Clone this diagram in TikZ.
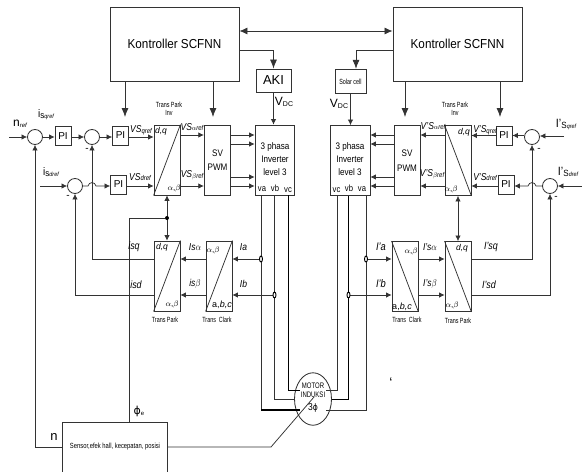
\documentclass[tikz,border=0pt]{standalone}
\usepackage{fontspec}
\setmainfont{Liberation Sans}
\usetikzlibrary{arrows.meta,shapes.geometric}
\newcommand{\nrw}[2][0.8]{\scalebox{#1}[1]{#2}}
\newcommand{\fsz}[1]{\fontsize{#1}{#1}\selectfont}
\newcommand{\symb}[1]{{\fontspec{DejaVu Sans}#1}}
\newcommand{\sig}[2]{\scalebox{0.85}[1]{\itshape\fsz{10}#1\raisebox{-0.5pt}{\fsz{7}#2}}}
\tikzset{
  x=1pt,y=-1pt,
  wire/.style={line width=0.75pt,black!80},
  arr/.style={wire,-{Latex[length=5.5pt,width=5.5pt]}},
  bigarr/.style={wire,-{Latex[length=9pt,width=7pt]}},
  botharr/.style={wire,{Latex[length=5.5pt,width=5.5pt]}-{Latex[length=5.5pt,width=5.5pt]}},
  bigboth/.style={wire,{Latex[length=8pt,width=7pt]}-{Latex[length=8pt,width=7pt]}},
  blk/.style={draw=black!80,line width=0.85pt,inner sep=0pt,align=center,fill=none},
  sumc/.style={draw=black!80,line width=0.85pt,circle,minimum size=15pt,inner sep=0pt},
  pibox/.style={blk,minimum width=16pt,minimum height=19pt,font=\fsz{10}},
  conv/.style={blk,minimum width=26pt,minimum height=70pt},
  txt/.style={inner sep=0pt,align=center},
  tinyt/.style={txt,font=\fsz{7.5}},
  dotc/.style={draw=black,fill=white,line width=0.9pt,ellipse,minimum width=3pt,minimum height=6pt,inner sep=0pt},
  dotf/.style={fill=black,circle,minimum size=4pt,inner sep=0pt},
}
\begin{document}
\begin{tikzpicture}
\useasboundingbox (0,0) rectangle (582,472);
% rows
\coordinate (r1) at (0,137);
\coordinate (r1b) at (0,135);
\coordinate (r1c) at (0,144);
\coordinate (r2) at (0,186);
\coordinate (r2c) at (0,177);
\coordinate (r3) at (0,259);
\coordinate (r4) at (0,295);
\coordinate (rlink) at (0,31);
\coordinate (rctl) at (0,50);
% controllers
\node[blk,minimum width=129pt,minimum height=74pt] (ctlL) at (174.5,44) {\nrw[0.9]{\fsz{13}Kontroller SCFNN}};
\node[blk,minimum width=129pt,minimum height=74pt] (ctlR) at (457.5,44) {\nrw[0.9]{\fsz{13}Kontroller SCFNN}};
\node[blk,minimum width=35pt,minimum height=23pt,font=\fsz{13}] (aki) at (273.5,80.5) {AKI};
\node[blk,minimum width=31pt,minimum height=24.5pt,font=\fsz{7.5}] (solar) at (350.5,81.5) {\nrw[0.72]{Solar cell}};
% inverters
\node[blk,minimum width=39pt,minimum height=70pt] (invL) at (274.5,160) {};
\node[blk,minimum width=40pt,minimum height=70pt] (invR) at (350,160.5) {};
\node[txt,font=\fsz{9.5}] (invLt) at (275,159) {\nrw[0.85]{3 phasa}\\[3.5pt]\nrw[0.85]{Inverter}\\[3.5pt]\nrw[0.85]{level 3}};
\node[txt,font=\fsz{9.5}] (invRt) at (350,159) {\nrw[0.85]{3 phasa}\\[3.5pt]\nrw[0.85]{Inverter}\\[3.5pt]\nrw[0.85]{level 3}};
\node[txt,font=\fsz{9}] (va) at (262,189) {\nrw[0.85]{va}};
\node[txt,font=\fsz{9}] (vb) at (275,188) {\nrw[0.85]{vb}};
\node[txt,font=\fsz{9}] (vc) at (288,190) {\nrw[0.85]{vc}};
\node[txt,font=\fsz{9}] (vc2) at (336.5,190.5) {\nrw[0.85]{vc}};
\node[txt,font=\fsz{9}] (vb2) at (349,188) {\nrw[0.85]{vb}};
\node[txt,font=\fsz{9}] (va2) at (362,189) {\nrw[0.85]{va}};
% SV PWM
\node[blk,minimum width=26.5pt,minimum height=70pt,font=\fsz{9.5}] (svL) at (217.5,160) {\nrw[0.85]{SV}\\[5pt]\nrw[0.85]{PWM}};
\node[blk,minimum width=26pt,minimum height=70pt,font=\fsz{9.5}] (svR) at (407,160.5) {\nrw[0.85]{SV}\\[5pt]\nrw[0.85]{PWM}};
% park/clark
\node[conv] (piL) at (167,160) {};
\node[conv] (piR) at (458,160.5) {};
\node[conv] (pL) at (167,276) {};
\node[conv] (cL) at (219,276) {};
\node[conv] (cR) at (405,276.5) {};
\node[conv] (pR) at (458,276.5) {};
\foreach \n in {piL,pL,cL}{\draw[wire] (\n.south west) -- (\n.north east);}
\foreach \n in {piR,pR,cR}{\draw[wire] (\n.north west) -- (\n.south east);}
% sums and PI
\node[sumc] (s1) at (35,137) {};
\node[pibox] (pi1) at (63,136) {PI};
\node[sumc] (s2) at (92,137) {};
\node[pibox] (pi2) at (120.5,135.5) {PI};
\node[sumc] (s3) at (75,186) {};
\node[pibox] (pi3) at (118.5,184.5) {PI};
\node[sumc] (s4) at (532,137) {};
\node[pibox] (pi4) at (504,135.5) {PI};
\node[sumc] (s5) at (550,186) {};
\node[pibox] (pi5) at (506,184.5) {PI};
% sensor and motor
\node[blk,minimum width=105pt,minimum height=50pt,font=\fsz{7.5}] (sensor) at (115,447) {\nrw[0.78]{Sensor,efek hall, kecepatan, posisi}};
\node[blk,ellipse,minimum width=37pt,minimum height=52.5pt] (motor) at (313,399) {};
\node[txt,font=\fsz{8},anchor=north] (motort) at (313,383) {\nrw[0.75]{MOTOR}\\[1pt]\nrw[0.75]{INDUKSI}};
\node[txt,font=\fsz{10}] (motorp) at (313,408) {\nrw[0.85]{3\symb{\fsz{9}ϕ}}};
% controller links
\draw[bigboth] (ctlL.east |- rlink) -- (ctlR.west |- rlink);
\draw[bigarr] (ctlL.east |- rctl) -| (aki.north);
\draw[bigarr] (ctlR.west |- rctl) -| (solar.north -| 356,0);
\coordinate (a1) at (125,117);
\coordinate (a2) at (213,117);
\coordinate (a3) at (405,117);
\coordinate (a4) at (500,117);
\draw[bigarr] (ctlL.south -| a1) -- (a1);
\draw[bigarr] (ctlL.south -| a2) -- (a2);
\draw[bigarr] (ctlR.south -| a3) -- (a3);
\draw[bigarr] (ctlR.south -| a4) -- (a4);
\draw[arr] (aki.south) -- (invL.north -| aki);
\draw[arr] (solar.south) -- (invR.north -| solar);
% left rows
\coordinate (in1) at (9,137);
\coordinate (in2) at (40,186);
\draw[arr] (in1) -- (s1.west);
\draw[arr] (s1.east) -- (pi1.west |- s1);
\draw[arr] (pi1.east |- s2) -- (s2.west);
\draw[arr] (s2.east) -- (pi2.west |- s2);
\draw[arr] (pi2.east |- s2) -- (piL.west |- s2);
\draw[arr] (in2) -- (s3.west);
\draw[arr] (s3.east) -- (88,186) .. controls (89,181.5) and (95,181.5) .. (96,186) -- (pi3.west |- s3);
\draw[arr] (pi3.east |- s3) -- (piL.west |- s3);
\draw[arr] (piL.east |- r1b) -- (svL.west |- r1b);
\draw[arr] (piL.east |- r2) -- (svL.west |- r2);
\foreach \r in {r1b,r1c,r2c,r2}{\draw[arr] (svL.east |- \r) -- (invL.west |- \r);}
% right rows
\coordinate (in4) at (564,136);
\coordinate (in5) at (582,186);
\draw[arr] (in4) -- (s4.east |- in4);
\draw[arr] (s4.west |- pi4) -- (pi4.east);
\draw[arr] (pi4.west) -- (piR.east |- pi4);
\draw[arr] (in5) -- (s5.east);
\draw[arr] (s5.west) -- (536,186) .. controls (535,181.5) and (529,181.5) .. (528,186) -- (pi5.east |- s5);
\draw[arr] (pi5.west |- s5) -- (piR.east |- s5);
\draw[arr] (piR.west |- r1b) -- (svR.east |- r1b);
\draw[arr] (piR.west |- r2) -- (svR.east |- r2);
\foreach \r in {r1b,r1c,r2c,r2}{\draw[arr] (svR.west |- \r) -- (invR.east |- \r);}
% vertical double arrows
\draw[botharr] (piL.south) -- (pL.north);
\draw[botharr] (piR.south) -- (pR.north);
\node[dotf] (jf) at (167,218) {};
\draw[wire] (jf) -| (sensor.north -| 129.5,0);
% feedback paths
\draw[arr] (sensor.west) -| (s1.south);
\draw[arr] (pL.west |- r3) -| (s2.south);
\draw[arr] (pL.west |- r4) -| (s3.south);
\draw[arr] (cL.west |- r3) -- (pL.east |- r3);
\draw[arr] (cL.west |- r4) -- (pL.east |- r4);
\draw[arr] (pR.east |- r3) -| (s4.south);
\draw[arr] (pR.east |- r4) -| (s5.south);
\draw[arr] (cR.east |- r3) -- (pR.west |- r3);
\draw[arr] (cR.east |- r4) -- (pR.west |- r4);
% phases
\coordinate (xa) at (261,0);
\coordinate (xb) at (274.5,0);
\coordinate (xc) at (288,0);
\coordinate (xc2) at (337,0);
\coordinate (xb2) at (348.5,0);
\coordinate (xa2) at (366,0);
\coordinate (m1) at (0,390);
\coordinate (m2) at (0,399);
\coordinate (m3) at (0,410);
\draw[wire] (invL.south -| xa) -- (xa |- m3);
\draw[wire,line width=1.2pt,black] (xa |- m3) -- (motor.south west |- m3);
\draw[wire] (invL.south -| xb) -- (xb |- m2) -- (motor.west);
\draw[wire,black] (invL.south -| xc) -- (xc |- m1) -- (motor.north west |- m1);
\draw[wire] (invR.south -| xc2) -- (xc2 |- m1) -- (motor.north east |- m1);
\draw[wire,black] (invR.south -| xb2) -- (xb2 |- m2) -- (motor.east);
\draw[wire] (invR.south -| xa2) -- (xa2 |- m3) -- (motor.south east |- m3);
\draw[arr] (xa |- r3) -- (cL.east |- r3);
\draw[arr] (xb |- r4) -- (cL.east |- r4);
\draw[arr] (xa2 |- r3) -- (cR.west |- r3);
\draw[arr] (xb2 |- r4) -- (cR.west |- r4);
\node[dotc] (d1) at (xa |- r3) {};
\node[dotc] (d2) at (xb |- r4) {};
\node[dotc] (d3) at (xa2 |- r3) {};
\node[dotc] (d4) at (xb2 |- r4) {};
% sensor to motor
\coordinate (kn) at (271,447);
\coordinate (mc) at (314,397);
\draw[wire] (sensor.east) -- (kn) -- (mc);
% labels left
\node[txt,font=\fsz{12}] (t1) at (20,124) {n\raisebox{-1pt}{\itshape\fsz{6}ref}};
\node[txt] (t2) at (46,115) {\nrw[0.9]{\fsz{11}i\raisebox{-1pt}{\fsz{9}s}\raisebox{-1pt}{\itshape\fsz{6}qref}}};
\node[txt] (t3) at (51,172) {\nrw[0.9]{\fsz{11}i\raisebox{-1pt}{\fsz{9}s}\raisebox{-1pt}{\itshape\fsz{6}dref}}};
\node[tinyt] (t4) at (169,109) {\nrw[0.72]{Trans Park}\\[1pt]\nrw[0.72]{Inv}};
\node[txt] (t5) at (141,130) {\sig{VS}{qref}};
\node[txt] (t6) at (140,177) {\sig{VS}{dref}};
\node[txt] (t7) at (192,127) {\sig{VS}{$\alpha$ref}};
\node[txt] (t8) at (192,175) {\sig{VS}{$\beta$ref}};
\node[txt,font=\fsz{8.5}\itshape] (t9) at (161,131) {d,q};
\node[txt,font=\fsz{8}] (t10) at (174,188) {$\alpha$,$\beta$};
\node[txt] (t11) at (284,102) {\fsz{12}V\raisebox{-1pt}{\fsz{7}DC}};
\node[txt] (t12) at (339,104) {\fsz{12}V\raisebox{-1pt}{\fsz{7}DC}};
\node[txt,font=\fsz{10}] (t13) at (87,150) {-};
\node[txt,font=\fsz{10}] (t14) at (68,197) {-};
\node[txt,font=\fsz{10.5}\itshape] (t15) at (134,247) {\nrw[0.85]{isq}};
\node[txt,font=\fsz{10.5}\itshape] (t16) at (136,285) {\nrw[0.85]{isd}};
\node[txt,font=\fsz{8.5}\itshape] (t17) at (162,247) {d,q};
\node[txt,font=\fsz{8}] (t18) at (172,304) {$\alpha$,$\beta$};
\node[tinyt] (t19) at (165,320) {\nrw[0.72]{Trans Park}};
\node[txt,font=\fsz{10}\itshape] (t20) at (195,247) {\nrw[0.85]{Is$\alpha$}};
\node[txt,font=\fsz{10}\itshape] (t21) at (195,284) {\nrw[0.85]{is$\beta$}};
\node[txt,font=\fsz{8}] (t22) at (213,250) {$\alpha$,$\beta$};
\node[txt,font=\fsz{9}] (t23) at (222,305) {a,\textit{b,c}};
\node[tinyt] (t24) at (217,320) {\nrw[0.72]{Trans\ \ Clark}};
\node[txt,font=\fsz{10}\itshape] (t25) at (243.5,247) {\nrw[0.85]{Ia}};
\node[txt,font=\fsz{10}\itshape] (t26) at (243.5,284) {\nrw[0.85]{Ib}};
\node[txt] (t27) at (139,411) {\symb{\fsz{11}ϕ}\raisebox{-1pt}{\fsz{6}e}};
\node[txt,font=\fsz{13}] (t28) at (54,437) {n};
% labels right
\node[tinyt] (r4t) at (455,109) {\nrw[0.72]{Trans Park}\\[1pt]\nrw[0.72]{Inv}};
\node[txt] (rt5) at (433,126) {\sig{V'S}{$\alpha$ref}};
\node[txt] (rt6) at (432,174) {\sig{V'S}{$\beta$ref}};
\node[txt] (rt7) at (485,130) {\sig{V'S}{qref}};
\node[txt] (rt8) at (485,177) {\sig{V'S}{dref}};
\node[txt,font=\fsz{8.5}\itshape] (rt9) at (464,132) {d,q};
\node[txt,font=\fsz{8}] (rt10) at (451,189) {$\alpha$,$\beta$};
\node[txt] (rt11) at (566,124) {\nrw[0.9]{\fsz{12}I'\raisebox{-1pt}{\fsz{9}S}\raisebox{-1pt}{\itshape\fsz{6}qref}}};
\node[txt] (rt12) at (568,172) {\nrw[0.9]{\fsz{12}I'\raisebox{-1pt}{\fsz{9}S}\raisebox{-1pt}{\itshape\fsz{6}dref}}};
\node[txt,font=\fsz{10}] (rt13) at (539,150) {-};
\node[txt,font=\fsz{10}] (rt14) at (556,198) {-};
\node[txt,font=\fsz{11}\itshape] (rt15) at (381,247) {\nrw[0.85]{I'a}};
\node[txt,font=\fsz{11}\itshape] (rt16) at (381,284) {\nrw[0.85]{I'b}};
\node[txt,font=\fsz{8}] (rt17) at (411,251) {$\alpha$,$\beta$};
\node[txt,font=\fsz{9}] (rt18) at (402,307) {a,\textit{b,c}};
\node[tinyt] (rt19) at (407,320) {\nrw[0.72]{Trans\ \ Clark}};
\node[txt,font=\fsz{10}\itshape] (rt20) at (430,247) {\nrw[0.85]{I's$\alpha$}};
\node[txt,font=\fsz{10}\itshape] (rt21) at (430,284) {\nrw[0.85]{I's$\beta$}};
\node[txt,font=\fsz{8.5}\itshape] (rt22) at (462,248) {d,q};
\node[txt,font=\fsz{8}] (rt23) at (452,305) {$\alpha$,$\beta$};
\node[tinyt] (rt24) at (458,321) {\nrw[0.72]{Trans Park}};
\node[txt,font=\fsz{10.5}\itshape] (rt25) at (491,247) {\nrw[0.85]{I'sq}};
\node[txt,font=\fsz{10.5}\itshape] (rt26) at (489,285) {\nrw[0.85]{I'sd}};
\node[txt,font=\fsz{14}] (rt27) at (391,383) {`};
\end{tikzpicture}
\end{document}
